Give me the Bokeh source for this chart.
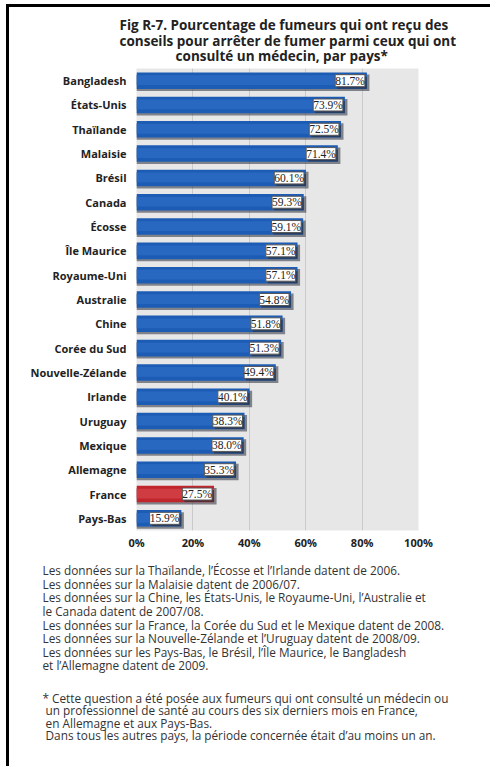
from bokeh.plotting import figure
from bokeh.models import ColumnDataSource, FactorRange, LabelSet, Range1d, Title
from bokeh.transform import dodge
from bokeh.embed import file_html
from bokeh.resources import INLINE

countries = ["Bangladesh", "États-Unis", "Thaïlande", "Malaisie", "Brésil", "Canada",
             "Écosse", "Île Maurice", "Royaume-Uni", "Australie", "Chine", "Corée du Sud",
             "Nouvelle-Zélande", "Irlande", "Uruguay", "Mexique", "Allemagne", "France",
             "Pays-Bas"]
values = [81.7, 73.9, 72.5, 71.4, 60.1, 59.3, 59.1, 57.1, 57.1, 54.8, 51.8, 51.3,
          49.4, 40.1, 38.3, 38.0, 35.3, 27.5, 15.9]
highlight = ["France"]
x_ticks = [0, 20, 40, 60, 80, 100]
x_tick_labels = ["0%", "20%", "40%", "60%", "80%", "100%"]

title_lines = [
    "Fig R-7. Pourcentage de fumeurs qui ont reçu des",
    "conseils pour arrêter de fumer parmi ceux qui ont",
    "consulté un médecin, par pays*",
]
title_indent = [0, 0, 16]  # non-breaking spaces used to centre each line
note_lines = [
    "Les données sur la Thaïlande, l’Écosse et l’Irlande datent de 2006.",
    "Les données sur la Malaisie datent de 2006/07.",
    "Les données sur la Chine, les États-Unis, le Royaume-Uni, l’Australie et",
    "le Canada datent de 2007/08.",
    "Les données sur la France, la Corée du Sud et le Mexique datent de 2008.",
    "Les données sur la Nouvelle-Zélande et l’Uruguay datent de 2008/09.",
    "Les données sur les Pays-Bas, le Brésil, l’Île Maurice, le Bangladesh",
    "et l’Allemagne datent de 2009.",
]
star_lines = [
    "* Cette question a été posée aux fumeurs qui ont consulté un médecin ou",
    "\u00a0un professionnel de santé au cours des six derniers mois en France,",
    "\u00a0en Allemagne et aux Pays-Bas.",
    "\u00a0Dans tous les autres pays, la période concernée était d’au moins un an.",
]

W, H = 484, 766
FL, FT, FW, FH = 130, 68, 282, 462

colors = ["#c1262c" if c in highlight else "#1d5cb4" for c in countries]
hi_colors = ["#cf3d43" if c in highlight else "#2868c0" for c in countries]
src = ColumnDataSource(dict(
    country=countries, value=values, color=colors, hi=hi_colors,
    shadow=[v + 0.9 for v in values],
    label=[f"{v:.1f}%" for v in values],
))

p = figure(width=W, height=H, output_backend="svg", toolbar_location=None,
           y_range=FactorRange(factors=list(reversed(countries))),
           x_range=Range1d(0, 100),
           min_border_left=FL, min_border_right=W - FL - FW,
           min_border_top=FT, min_border_bottom=H - FT - FH)
p.background_fill_color = "#e7e7e7"
p.border_fill_color = "white"
p.border_fill_alpha = 0
p.outline_line_color = None
# black frame lines (left and top) painted behind the transparent canvas border
p.styles = {
    "margin-left": "6px",
    "background": ("linear-gradient(#000, #000) 0 4px / 100% 3px no-repeat, "
                   "linear-gradient(#000, #000) 0 4px / 3px 100% no-repeat, white"),
}

p.ygrid.grid_line_color = None
p.xgrid.ticker = x_ticks
p.xgrid.grid_line_color = "#cacaca"
p.xgrid.grid_line_width = 1

# shadow
p.hbar(y=dodge("country", -0.09, range=p.y_range), left=0, right="shadow", height=0.68,
       source=src, fill_color="#2b2f3c", fill_alpha=0.55, line_color=None)
p.hbar(y="country", left=0, right="value", height=0.68, source=src,
       fill_color="color", line_color=None)
p.hbar(y=dodge("country", 0.02, range=p.y_range), left=0, right="value", height=0.4,
       source=src, fill_color="hi", line_color=None)

label_shadow = LabelSet(x="value", y="country", text="label", source=src,
                        text_align="right", text_baseline="middle", x_offset=0, y_offset=-2,
                        text_font="Open Sans", text_font_size="11.5px", text_alpha=0,
                        background_fill_color="#2b2f3c", background_fill_alpha=0.7)
labels = LabelSet(x="value", y="country", text="label", source=src,
                  text_align="right", text_baseline="middle", x_offset=-2,
                  text_font="Open Sans", text_font_size="11.5px", text_color="#222222",
                  background_fill_color="white", border_line_color="#555555",
                  border_line_width=1)
p.add_layout(label_shadow)
p.add_layout(labels)

p.xaxis.ticker = x_ticks
p.xaxis.major_label_overrides = {t: l for t, l in zip(x_ticks, x_tick_labels)}
p.xaxis.axis_line_color = None
p.xaxis.major_tick_line_color = None
p.xaxis.minor_tick_line_color = None
p.xaxis.major_tick_out = 0
p.xaxis.major_tick_in = 0
p.xaxis.major_label_text_font = "Open Sans"
p.xaxis.major_label_text_font_style = "bold"
p.xaxis.major_label_text_font_size = "11px"
p.xaxis.major_label_text_color = "#222222"
p.xaxis.major_label_standoff = 4

p.yaxis.axis_line_color = None
p.yaxis.major_tick_line_color = None
p.yaxis.minor_tick_line_color = None
p.yaxis.major_tick_out = 0
p.yaxis.major_tick_in = 0
p.yaxis.major_label_text_font = "Open Sans"
p.yaxis.major_label_text_font_style = "bold"
p.yaxis.major_label_text_font_size = "11px"
p.yaxis.major_label_text_color = "#222222"
p.yaxis.major_label_standoff = 10

title_text = "\n".join("\u00a0" * n + t for t, n in zip(title_lines, title_indent))
p.add_layout(Title(text=title_text, align="left", offset=-17, vertical_align="bottom",
                   text_font="Open Sans", text_font_size="13.5px", text_font_style="bold",
                   text_color="#222222", text_line_height=0.88, standoff=6), "above")

p.add_layout(Title(text="\n".join(note_lines), align="left", offset=-94,
                   text_font="Open Sans", text_font_size="11.8px", text_font_style="normal",
                   text_color="#333333", text_line_height=0.85, standoff=16), "below")
p.add_layout(Title(text="\n".join(star_lines), align="left", offset=-94,
                   text_font="Open Sans", text_font_size="11.8px", text_font_style="normal",
                   text_color="#333333", text_line_height=0.79, standoff=12), "below")

open("out.html", "w").write(file_html(p, INLINE))
